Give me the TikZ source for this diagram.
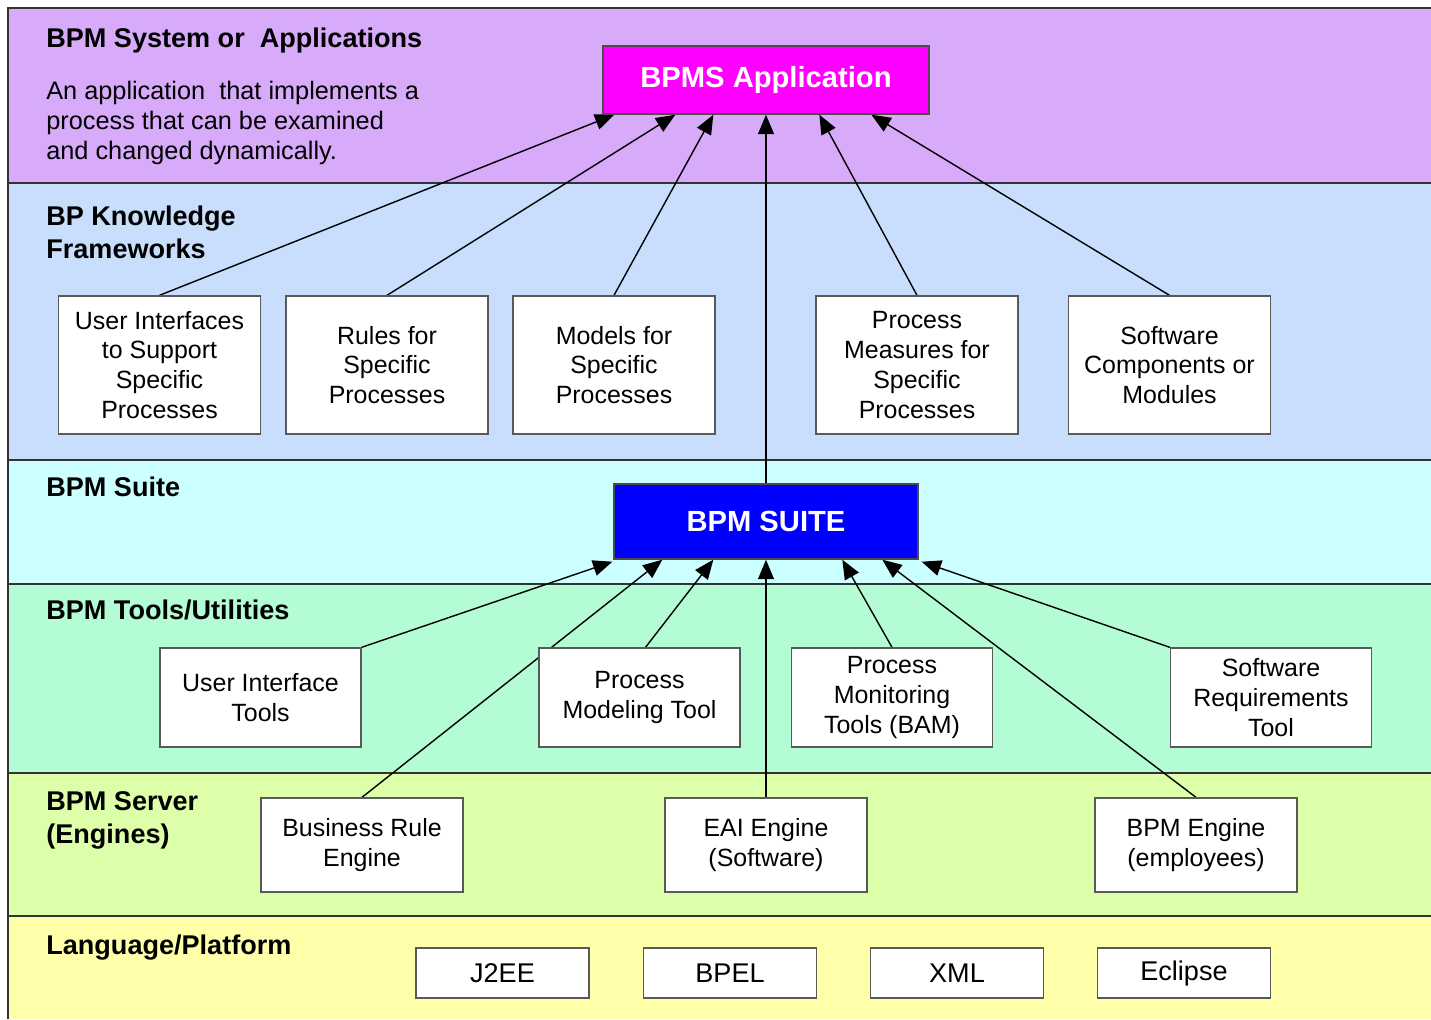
\documentclass[tikz,border=0pt]{standalone}
\usepackage{fontspec}
\setmainfont{Liberation Sans}
\usetikzlibrary{arrows.meta,calc,backgrounds}

\definecolor{layerApp}{HTML}{D8AAFA}
\definecolor{layerKnow}{HTML}{C8DEFC}
\definecolor{layerSuite}{HTML}{CCFFFF}
\definecolor{layerTool}{HTML}{B4FDD4}
\definecolor{layerServ}{HTML}{DEFFAA}
\definecolor{layerLang}{HTML}{FFFFAA}
\definecolor{appFill}{RGB}{255,0,255}
\definecolor{suiteFill}{RGB}{0,0,255}

\tikzset{
    box/.style={draw=black!65, line width=0.8pt, fill=white, align=center, inner sep=0pt,
        font=\fontsize{14.2}{17}\selectfont},
    kbox/.style={box, minimum width=4.04cm, minimum height=2.76cm},
    tbox/.style={box, minimum width=4.02cm, minimum height=1.98cm},
    sbox/.style={box, minimum width=4.04cm, minimum height=1.88cm},
    pbox/.style={box, minimum width=3.46cm, minimum height=1.0cm, font=\fontsize{15.4}{18}\selectfont},
    bigbox/.style={draw=black!70, line width=0.8pt, text=white, inner sep=0pt,
        font=\fontsize{16.6}{20}\selectfont\bfseries},
    head/.style={anchor=north west, align=left, inner sep=0pt,
        font=\fontsize{15.4}{18.7}\selectfont\bfseries},
    link/.style={-{Triangle[length=11pt,width=9pt]}, line width=0.8pt}
}

\begin{document}
\begin{tikzpicture}[x=0.02cm, y=-0.02cm]
    \useasboundingbox (0,0) rectangle (1431,1019);

    % layers
    \begin{scope}[on background layer]
        \foreach \yTop/\yBot/\cLayer in {8/183/layerApp, 183/460/layerKnow, 460/584/layerSuite,
                584/773/layerTool, 773/916/layerServ, 916/1019/layerLang}
            \fill[\cLayer] (8,\yTop) rectangle (1431,\yBot);
        \foreach \yLine in {183, 460, 584, 773, 916}
            \draw[black!80, line width=1.1pt] (8,\yLine) -- (1431,\yLine);
        \draw[black!80, line width=1.1pt] (8,1019) -- (8,8) -- (1431,8);
    \end{scope}

    \node[head] (hApp) at (46,28) {BPM System or~ Applications};
    \node[anchor=north west, align=left, inner sep=0pt, font=\fontsize{14.4}{17}\selectfont]
        (hAppTxt) at (46,81) {An application~ that implements a\\process that can be examined\\and changed dynamically.};
    \node[head] (hKnow) at (46,206) {BP Knowledge\\Frameworks};
    \node[head] (hSuite) at (46,477) {BPM Suite};
    \node[head] (hTool) at (46,600) {BPM Tools/Utilities};
    \node[head] (hServ) at (46,791) {BPM Server\\(Engines)};
    \node[head] (hLang) at (46,935) {Language/Platform};

    % central boxes
    \node[bigbox, fill=appFill, minimum width=6.52cm, minimum height=1.36cm] (app) at (766,80) {BPMS Application};
    \node[bigbox, fill=suiteFill, minimum width=6.08cm, minimum height=1.5cm] (suite) at (766,521.5) {BPM SUITE};

    % knowledge frameworks
    \node[kbox] (kUI) at (159.5,365) {User Interfaces\\to Support\\Specific\\Processes};
    \node[kbox] (kRule) at (387,365) {Rules for\\Specific\\Processes};
    \node[kbox] (kModel) at (614,365) {Models for\\Specific\\Processes};
    \node[kbox] (kMeas) at (917,365) {Process\\Measures for\\Specific\\Processes};
    \node[kbox] (kComp) at (1169.5,365) {Software\\Components or\\Modules};

    % tools
    \node[tbox] (tUI) at (260.5,697.5) {User Interface\\Tools};
    \node[tbox] (tModel) at (639.5,697.5) {Process\\Modeling Tool};
    \node[tbox] (tMon) at (892,697.5) {Process\\Monitoring\\Tools (BAM)};
    \node[tbox] (tReq) at (1271,697.5) {Software\\Requirements\\Tool};

    % engines
    \node[sbox] (sRule) at (362,845) {Business Rule\\Engine};
    \node[sbox] (sEAI) at (766,845) {EAI Engine\\(Software)};
    \node[sbox] (sBPM) at (1196,845) {BPM Engine\\(employees)};

    % platform
    \node[pbox] (pJ2EE) at (502.5,973) {J2EE};
    \node[pbox] (pBPEL) at (730,973) {BPEL};
    \node[pbox] (pXML) at (957,973) {XML};
    \node[pbox] (pEclipse) at (1184,973) {Eclipse};

    \begin{scope}[on background layer]
        \draw[link] (kUI.north) -- ($(app.south west)+(12,0)$);
        \draw[link] (kRule.north) -- ($(app.south west)+(73,0)$);
        \draw[link] (kModel.north) -- ($(app.south west)+(111,0)$);
        \draw[link] (suite.north) -- (app.south);
        \draw[link] (kMeas.north) -- ($(app.south west)+(217,0)$);
        \draw[link] (kComp.north) -- ($(app.south west)+(269,0)$);

        \draw[link] (tUI.north east) -- ($(suite.south west)+(-1,2)$);
        \draw[link] (sRule.north) -- ($(suite.south west)+(49,0)$);
        \draw[link] ($(tModel.north)+(6,0)$) -- ($(suite.south west)+(100,0)$);
        \draw[link] (sEAI.north) -- (suite.south);
        \draw[link] (tMon.north) -- ($(suite.south west)+(229,0)$);
        \draw[link] (sBPM.north) -- ($(suite.south west)+(269,0)$);
        \draw[link] (tReq.north west) -- ($(suite.south east)+(3,2)$);
    \end{scope}
\end{tikzpicture}
\end{document}
